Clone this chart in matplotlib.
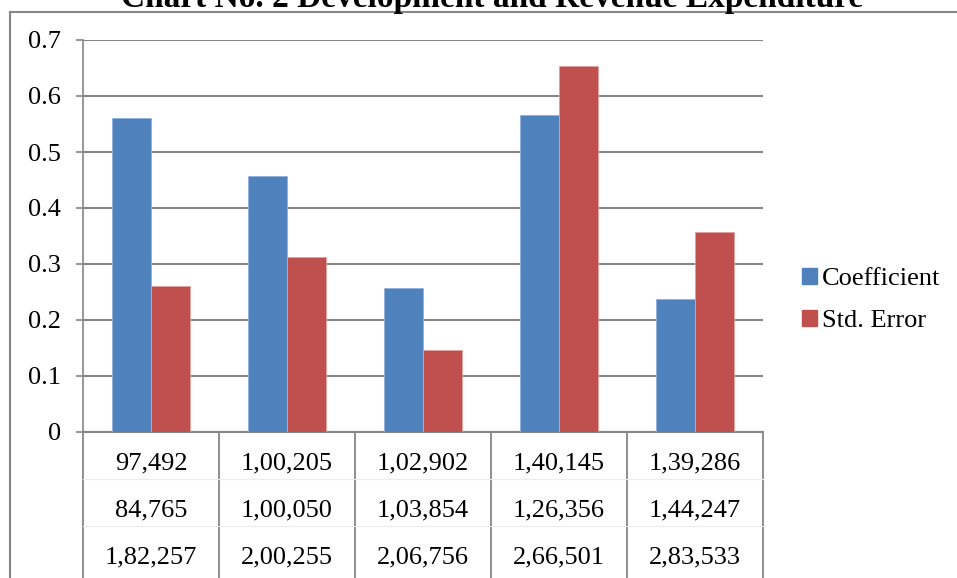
import matplotlib
matplotlib.use("Agg")
import matplotlib.pyplot as plt
from matplotlib.lines import Line2D
from matplotlib.patches import Patch
import numpy as np

plt.rcParams['font.family'] = ['Liberation Serif', 'DejaVu Serif']

# data
coefficient = [0.560, 0.457, 0.257, 0.566, 0.238]
std_error = [0.261, 0.312, 0.146, 0.653, 0.358]
row_1 = ["97,492", "1,00,205", "1,02,902", "1,40,145", "1,39,286"]
row_2 = ["84,765", "1,00,050", "1,03,854", "1,26,356", "1,44,247"]
row_3 = ["1,82,257", "2,00,255", "2,06,756", "2,66,501", "2,83,533"]
series_names = ["Coefficient", "Std. Error"]
title = "Chart No. 2 Development and Revenue Expenditure"

blue = "#4F81BD"
red = "#C0504D"
grey = "#868686"

W, H = 957, 578
fig = plt.figure(figsize=(W / 100, H / 100), dpi=100)
ax = fig.add_axes([83 / W, 1 - 432 / H, (763 - 83) / W, (432 - 40) / H])

x = np.arange(len(coefficient))
bw = 0.287
ax.bar(x - bw / 2, coefficient, bw, color=blue, edgecolor="#8fb0dc", linewidth=0.6, zorder=3)
ax.bar(x + bw / 2, std_error, bw, color=red, edgecolor="#e0a0a0", linewidth=0.6, zorder=3)

ax.set_xlim(-0.5, len(x) - 0.5)
ax.set_ylim(0, 0.7)
ax.set_yticks(np.arange(0, 0.71, 0.1))
ax.set_yticklabels(["0", "0.1", "0.2", "0.3", "0.4", "0.5", "0.6", "0.7"])
ax.tick_params(axis="y", labelsize=19, length=5, width=1.2, color=grey, pad=11)
ax.set_xticks([])
ax.yaxis.grid(True, color=grey, linewidth=1.5, zorder=0)
for s in ["top", "right"]:
    ax.spines[s].set_visible(False)
ax.spines["left"].set_color(grey)
ax.spines["left"].set_linewidth(1.2)
ax.spines["bottom"].set_color(grey)
ax.spines["bottom"].set_linewidth(1.5)

# data table under the axis
tr = ax.get_xaxis_transform()
ax_h = 432 - 40
for xv in np.arange(-0.5, len(x), 1.0):
    ax.plot([xv, xv], [0, -(H - 432) / ax_h], color=grey, linewidth=1.3,
            transform=tr, clip_on=False)
for yl in [479, 526]:
    ax.plot([-0.5, len(x) - 0.5], [(432 - yl) / ax_h] * 2, color="#ececec",
            linewidth=0.8, transform=tr, clip_on=False)
for row, yp in zip([row_1, row_2, row_3], [463, 510, 557]):
    for xv, lab in zip(x, row):
        ax.text(xv, (432 - yp) / ax_h, lab, transform=tr, ha="center",
                va="center", fontsize=19)

# legend
handles = [Patch(color=blue), Patch(color=red)]
fig.legend(handles, series_names, loc="center left",
           bbox_to_anchor=(802 / W, 1 - 300 / H), frameon=False, fontsize=19,
           handlelength=0.55, handleheight=0.55, handletextpad=0.2,
           labelspacing=0.75, borderpad=0, borderaxespad=0)

# chart frame and title (clipped at the top edge, as in the source image)
fig.add_artist(Line2D([9.5 / W, 9.5 / W], [0, 1 - 12 / H], color=grey, linewidth=1.5))
fig.add_artist(Line2D([9.5 / W, 1], [1 - 12 / H, 1 - 12 / H], color=grey, linewidth=1.5))
fig.text(492 / W, 1 - 7 / H, title, ha="center", va="baseline",
         fontsize=24, fontweight="bold")

fig.savefig("out.png", dpi=100)
